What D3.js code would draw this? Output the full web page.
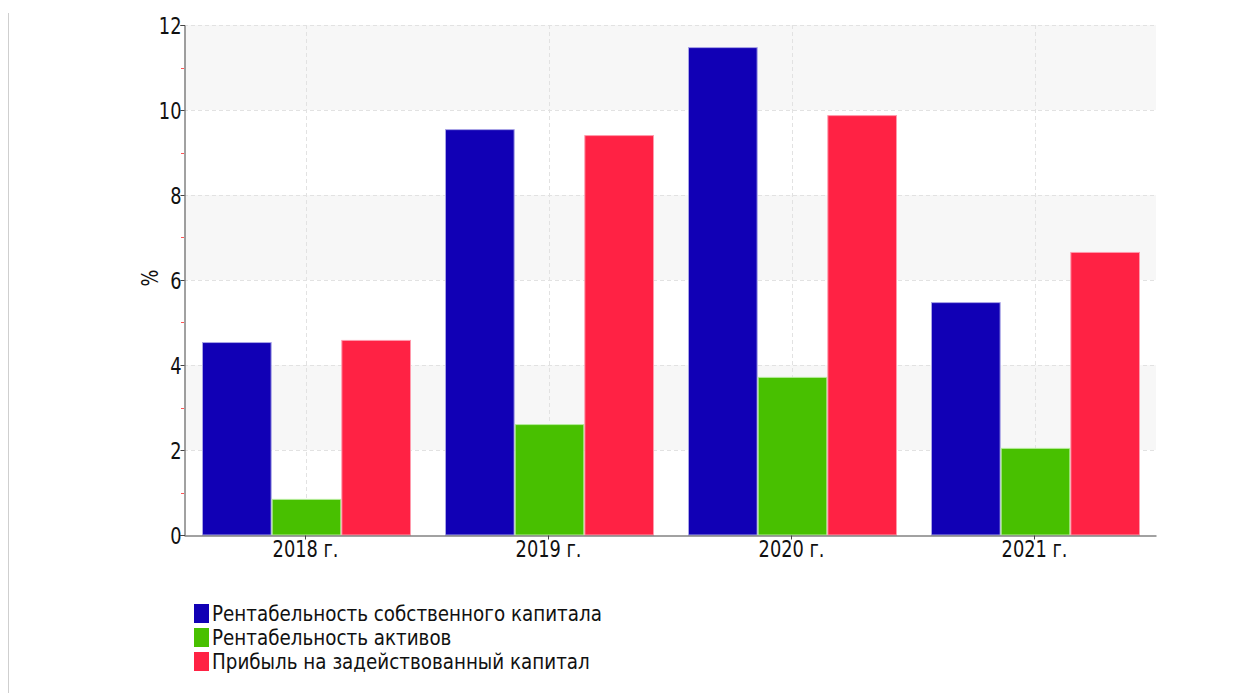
<!DOCTYPE html>
<html>
<head>
<meta charset="utf-8">
<script src="https://cdn.jsdelivr.net/npm/d3@7"></script>
<style>
  body { margin: 0; background: #fff; }
  text { font-family: "DejaVu Sans Condensed", "DejaVu Sans", sans-serif; fill: #111; }
</style>
</head>
<body>
<div id="chart"></div>
<script>
// chart data
var years = ["2018 г.", "2019 г.", "2020 г.", "2021 г."];
var seriesNames = ["Рентабельность собственного капитала", "Рентабельность активов", "Прибыль на задействованный капитал"];
var roe = [4.54, 9.55, 11.48, 5.48];
var roa = [0.85, 2.61, 3.72, 2.05];
var roce = [4.59, 9.41, 9.88, 6.66];
var yTicks = [0, 2, 4, 6, 8, 10, 12];
var colors = ["#1100b5", "#48c000", "#ff2244"];
var strokes = ["#a9a4e6", "#b4ec9a", "#ff9aac"];

var W = 1250, H = 693;
var margin = {top: 25, right: 94, bottom: 158, left: 184};
var width = W - margin.left - margin.right,
    height = H - margin.top - margin.bottom;
var fs = 23, squeeze = 0.86; // narrow look of the original font

var svg = d3.select("#chart").append("svg")
    .attr("width", W).attr("height", H);

// left border line
svg.append("line")
    .attr("x1", 8.5).attr("x2", 8.5).attr("y1", 13).attr("y2", H)
    .style("stroke", "#cfcfcf").style("stroke-width", 1);

var g = svg.append("g").attr("transform", "translate(" + margin.left + "," + margin.top + ")");

var x = d3.scaleBand().domain(years).range([0, width]).paddingInner(0).paddingOuter(0);
var y = d3.scaleLinear().domain([0, 12]).range([height, 0]);
var xs = d3.scaleBand().domain(d3.range(3)).range([18, x.bandwidth() - 16]).paddingInner(0);

// alternating bands
var bands = [[2, 4], [6, 8], [10, 12]];
g.selectAll(".band").data(bands).enter().append("rect")
    .attr("x", 0).attr("width", width)
    .attr("y", function(d) { return y(d[1]); })
    .attr("height", function(d) { return y(d[0]) - y(d[1]); })
    .style("fill", "#f7f7f7");

// horizontal grid
g.selectAll(".hgrid").data(yTicks.slice(1)).enter().append("line")
    .attr("x1", 0).attr("x2", width)
    .attr("y1", function(d) { return Math.round(y(d)) + 0.5; })
    .attr("y2", function(d) { return Math.round(y(d)) + 0.5; })
    .style("stroke", "#e2e2e2").style("stroke-dasharray", "4,3");

// vertical grid at category centres
g.selectAll(".vgrid").data(years).enter().append("line")
    .attr("x1", function(d) { return Math.round(x(d) + x.bandwidth() / 2) + 0.5; })
    .attr("x2", function(d) { return Math.round(x(d) + x.bandwidth() / 2) + 0.5; })
    .attr("y1", 0).attr("y2", height)
    .style("stroke", "#e2e2e2").style("stroke-dasharray", "4,3");

// bars
var data = [roe, roa, roce];
data.forEach(function(vals, si) {
    g.selectAll(".bar" + si).data(vals).enter().append("rect")
        .attr("x", function(d, i) { return x(years[i]) + xs(si) + 0.5; })
        .attr("y", function(d) { return y(d) + 0.5; })
        .attr("width", xs.bandwidth() - 1)
        .attr("height", function(d) { return height - y(d) - 0.5; })
        .style("fill", colors[si])
        .style("stroke", strokes[si]).style("stroke-width", 1);
});

// y axis
var yAxis = g.append("g").attr("transform", "translate(0.5,0)")
    .call(d3.axisLeft(y).tickValues(yTicks).tickSize(4).tickPadding(3));
yAxis.select(".domain").style("stroke", "#444");
yAxis.selectAll(".tick line").style("stroke", "#444");
yAxis.selectAll("text")
    .attr("x", 0).attr("dy", "0.36em")
    .attr("transform", "translate(-3,0) scale(" + squeeze + ",1)")
    .style("font-size", fs + "px").style("fill", "#111");

// minor red ticks
g.selectAll(".minor").data([1, 3, 5, 7, 9, 11]).enter().append("line")
    .attr("x1", -3).attr("x2", 0)
    .attr("y1", function(d) { return Math.round(y(d)) + 0.5; })
    .attr("y2", function(d) { return Math.round(y(d)) + 0.5; })
    .style("stroke", "#ff5555");

// x axis
var xAxis = g.append("g").attr("transform", "translate(0," + (height + 0.5) + ")")
    .call(d3.axisBottom(x).tickSize(4).tickSizeOuter(0).tickPadding(3));
xAxis.select(".domain").style("stroke", "#444");
xAxis.selectAll(".tick line").style("stroke", "#444");
xAxis.selectAll("text")
    .attr("y", 0).attr("dy", "0.71em")
    .attr("transform", "translate(0,5) scale(" + squeeze + ",1)")
    .style("font-size", fs + "px").style("fill", "#111");

// y label
svg.append("text")
    .attr("transform", "translate(158," + (margin.top + height / 2 - 2) + ") rotate(-90) scale(" + squeeze + ",1)")
    .attr("text-anchor", "middle")
    .style("font-size", fs + "px")
    .text("%");

// legend
var legend = svg.append("g").attr("transform", "translate(194,604)");
seriesNames.forEach(function(name, i) {
    var row = legend.append("g").attr("transform", "translate(0," + (i * 24) + ")");
    row.append("rect").attr("x", 0).attr("y", 0).attr("width", 15).attr("height", 19)
        .style("fill", colors[i]);
    row.append("text")
        .attr("transform", "translate(18,17) scale(0.97,1)")
        .style("font-size", "21px")
        .text(name);
});
</script>
</body>
</html>
